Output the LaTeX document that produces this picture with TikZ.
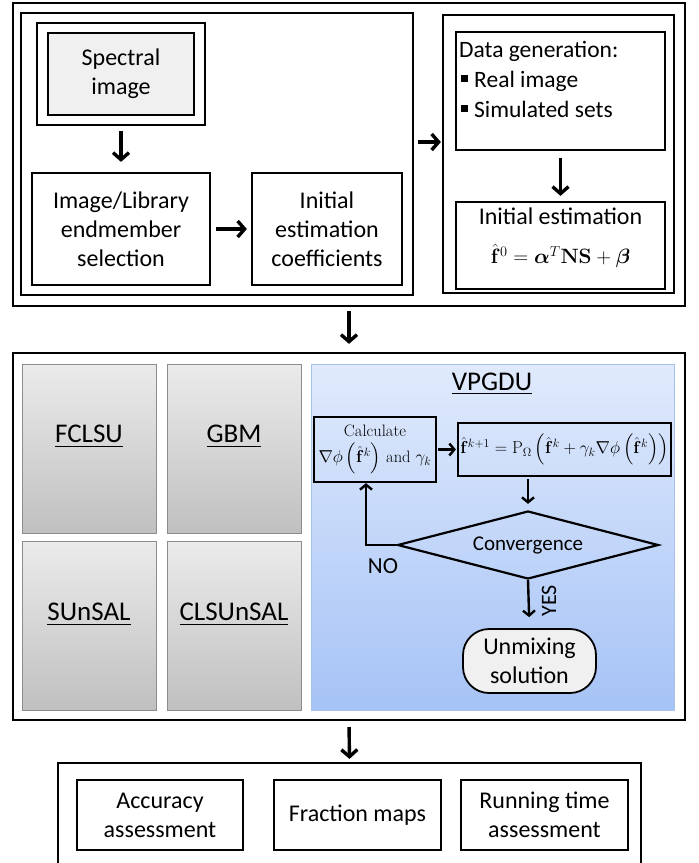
\documentclass[tikz,border=0pt]{standalone}
\usepackage{amsmath,bm}
\usepackage[no-math]{fontspec}
\setmainfont{Carlito}
\usetikzlibrary{arrows.meta,shapes.geometric}
\definecolor{methtop}{HTML}{EBEBEB}
\definecolor{methbot}{HTML}{C0C0C0}
\definecolor{methborder}{HTML}{8C8C8C}
\definecolor{vptop}{HTML}{E0EAFC}
\definecolor{vpbot}{HTML}{A6C3F6}
\definecolor{vpborder}{HTML}{A8C2EC}
\definecolor{lightfill}{HTML}{F0F0F0}
\newcommand{\cmtext}{\fontfamily{lmr}\selectfont}
\begin{document}
\begin{tikzpicture}[x=1pt,y=-1pt,
  box/.style={draw, line width=2.2pt, inner sep=0pt, align=center},
  txt/.style={font=\fontsize{24}{29}\selectfont, align=center},
  bigtxt/.style={font=\fontsize{27}{32}\selectfont},
  mtxt/.style={font=\cmtext\fontsize{16.5}{26}\selectfont},
  bigarr/.style={draw, line width=3.4pt, -{Straight Barb[length=7pt,width=16pt,line width=3.4pt]}},
  smallarr/.style={draw, line width=2.4pt, -{Straight Barb[length=5pt,width=12pt,line width=2.4pt]}},
  method/.style={draw=methborder, line width=0.8pt, top color=methtop, bottom color=methbot, minimum width=134pt, minimum height=169pt, inner sep=0pt}]
\path[fill=white] (0,0) rectangle (699,863);
\useasboundingbox (0,0) rectangle (699,863);
\clip (0,0) rectangle (699,863);

% ---------- top block ----------
\node[box, minimum width=672pt, minimum height=303pt] (top) at (349,154.5) {};
\node[box, minimum width=392pt, minimum height=282pt] (left) at (217,154) {};
\node[box, minimum width=168pt, minimum height=102pt] (specout) at (121,74) {};
\node[box, fill=lightfill, txt, minimum width=146pt, minimum height=82pt] (spec) at (121,74) {Spectral\\image};
\node[box, txt, minimum width=178pt, minimum height=112pt] (img) at (121,229) {Image/Library\\endmember\\selection};
\node[box, txt, minimum width=150pt, minimum height=112pt] (coef) at (327,229) {Initial\\estimation\\coefficients};
\node[box, minimum width=231pt, minimum height=278pt] (right) at (558.5,154) {};
\node[box, minimum width=209pt, minimum height=118pt] (datagen) at (560.5,91) {};
\node[font=\fontsize{23.5}{30}\selectfont, align=left, anchor=north west, inner sep=0pt] (datatxt) at (459,41)
  {Data generation:\\
   \hspace{2pt}\raisebox{5pt}{\rule{7pt}{7pt}}\hspace{6pt}Real image\\
   \hspace{2pt}\raisebox{5pt}{\rule{7pt}{7pt}}\hspace{6pt}Simulated sets};
\node[box, minimum width=209pt, minimum height=87pt] (initest) at (560.5,245.5) {};
\node[txt, inner sep=0pt] (initlbl) at (560.5,216) {Initial estimation};
\node[font=\fontsize{19.5}{24}\selectfont, inner sep=0pt] (initeq) at (560.5,256)
  {$\hat{\mathbf{f}}^{0} = \bm{\alpha}^{T}\mathbf{NS} + \bm{\beta}$};

\path[bigarr, shorten <=5pt, shorten >=10pt] (specout.south) -- (img.north);
\path[bigarr, shorten <=5pt, shorten >=4pt] (img.east) -- (coef.west);
\path[bigarr, shorten <=4pt, shorten >=1pt] ([yshift=12pt]left.east) -- ([yshift=12pt]right.west);
\path[bigarr, shorten <=7pt, shorten >=5pt] (datagen.south) -- (initest.north);

% ---------- middle block ----------
\node[box, minimum width=672pt, minimum height=367pt] (mid) at (349,536.5) {};
\path[bigarr, shorten <=4pt, shorten >=8pt] (top.south) -- (mid.north);

\node[method] (fclsu) at (89,448.5) {};
\node[method] (gbm) at (234,448.5) {};
\node[method] (sunsal) at (89,625.5) {};
\node[method] (clsunsal) at (234,625.5) {};
\node[bigtxt, inner sep=0pt] (fclsulbl) at ([yshift=12pt]fclsu.center) {\underline{FCLSU}};
\node[bigtxt, inner sep=0pt] (gbmlbl) at ([yshift=12pt]gbm.center) {\underline{GBM}};
\node[bigtxt, inner sep=0pt] (sunsallbl) at ([yshift=11pt]sunsal.center) {\underline{SUnSAL}};
\node[bigtxt, inner sep=0pt] (clsunsallbl) at ([yshift=11pt]clsunsal.center) {\underline{CLSUnSAL}};

\node[draw=vpborder, line width=0.8pt, top color=vptop, bottom color=vpbot,
      minimum width=363pt, minimum height=346pt, inner sep=0pt] (vp) at (492.5,537) {};
\node[bigtxt, inner sep=0pt] (vplbl) at (492,384) {\underline{VPGDU}};

\node[box, mtxt, minimum width=122pt, minimum height=65pt] (calc) at (375,449.5)
  {Calculate\\ $\nabla\phi\left(\hat{\mathbf{f}}^{k}\right)$ and $\gamma_k$};
\node[box, mtxt, minimum width=213pt, minimum height=53pt] (upd) at (564.5,449.5)
  {$\hat{\mathbf{f}}^{k+1} = \mathrm{P}_{\Omega}\left(\hat{\mathbf{f}}^{k} + \gamma_k\nabla\phi\left(\hat{\mathbf{f}}^{k}\right)\right)$};
\node[draw, line width=2.2pt, diamond, aspect=3.84, minimum width=261pt, minimum height=68pt,
      inner sep=0pt, font=\fontsize{21}{25}\selectfont] (conv) at (528,545) {Convergence};
\node[draw, line width=1.8pt, fill=lightfill, rounded corners=26pt, txt,
      minimum width=133pt, minimum height=64pt, inner sep=0pt] (unmix) at (529.5,661) {Unmixing\\solution};
\coordinate (nocorner) at (366,545);

\path[smallarr, shorten <=1pt, shorten >=1pt] (calc.east) -- (upd.west);
\path[smallarr, shorten <=2pt, shorten >=6pt] (conv.north |- upd.south) -- (conv.north);
\path[smallarr] (conv.west) -- (nocorner) -- (nocorner |- calc.south);
\path[smallarr, shorten >=11pt] (conv.south) -- (unmix.north);
\node[font=\fontsize{23}{27}\selectfont, inner sep=0pt] (nolbl) at (383,566) {NO};
\node[font=\fontsize{22}{26}\selectfont, inner sep=0pt, rotate=90] (yeslbl) at (549,601) {YES};

% ---------- bottom block ----------
\node[box, minimum width=583pt, minimum height=140pt] (bottom) at (349.5,833) {};
\path[bigarr, shorten <=6pt, shorten >=3pt] (mid.south) -- (bottom.north);
\node[box, txt, minimum width=166pt, minimum height=70pt] (acc) at (160,815) {Accuracy\\assessment};
\node[box, txt, minimum width=167pt, minimum height=70pt] (frac) at (357.5,815) {Fraction maps};
\node[box, txt, minimum width=167pt, minimum height=70pt] (run) at (544.5,815) {Running time\\assessment};
\end{tikzpicture}
\end{document}
